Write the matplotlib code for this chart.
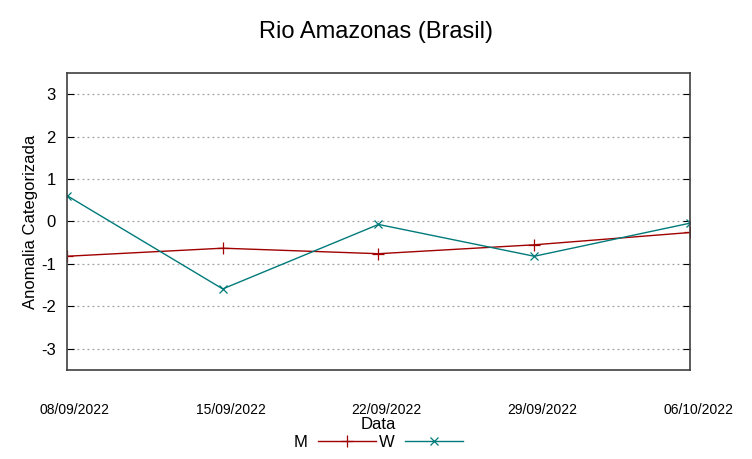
import numpy as np
import matplotlib.pyplot as plt
import matplotlib.transforms as mtransforms

plt.rcParams['font.family'] = ['Liberation Sans', 'DejaVu Sans']
plt.rcParams['axes.unicode_minus'] = False

# data
dates = ['08/09/2022', '15/09/2022', '22/09/2022', '29/09/2022', '06/10/2022']
m_vals = [-0.82, -0.63, -0.76, -0.55, -0.26]
w_vals = [0.61, -1.59, -0.07, -0.82, -0.04]

x = np.arange(len(dates))

fig = plt.figure(figsize=(7.52, 4.59), dpi=100)
ax = fig.add_axes([0.089, 0.194, 0.8286, 0.647])

ax.plot(x, m_vals, color='#a00000', lw=1.0, marker='+', ms=8, mew=0.9, label='M')
ax.plot(x, w_vals, color='#007a7a', lw=1.0, marker='x', ms=6, mew=0.9, label='W')

ax.set_xlim(0, len(dates) - 1)
ax.set_ylim(-3.5, 3.5)
ax.set_yticks([-3, -2, -1, 0, 1, 2, 3])
ax.set_xticks(x)
ax.set_xticklabels(dates, fontsize=10)
ax.tick_params(axis='x', length=0, pad=24)
ax.tick_params(axis='y', direction='in', length=5, right=True, labelsize=12, pad=8)
# gnuplot puts the date labels a little right of the tick
shift = mtransforms.ScaledTranslation(8 / 100, 0, fig.dpi_scale_trans)
for lab in ax.get_xticklabels():
    lab.set_transform(lab.get_transform() + shift)
ax.yaxis.grid(True, linestyle=(0, (1.5, 2.5)), color='#a0a0a0', lw=0.9)
for s in ax.spines.values():
    s.set_color('#404040')
    s.set_linewidth(1.2)

ax.set_xlabel('Data', fontsize=12, labelpad=0)
ax.set_ylabel('Anomalia Categorizada', fontsize=12, labelpad=2)
fig.suptitle('Rio Amazonas (Brasil)', fontsize=17, y=0.955)

ax.legend(loc='upper center', bbox_to_anchor=(0.5, -0.19), ncol=2, frameon=False,
          markerfirst=False, fontsize=12, handlelength=3.5, columnspacing=0.2,
          handletextpad=0.6, borderpad=0)

fig.savefig('out.png', dpi=100)
